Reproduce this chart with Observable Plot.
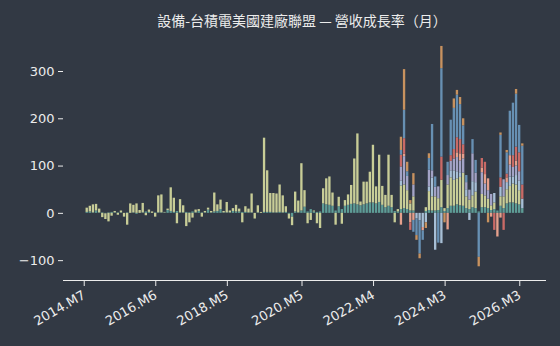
<!DOCTYPE html>
<html>
<head>
<meta charset="utf-8">
<script src="https://cdn.jsdelivr.net/npm/d3@7"></script>
<script src="https://cdn.jsdelivr.net/npm/@observablehq/plot@0.6"></script>
<style>
  html, body { margin: 0; padding: 0; background: #323944; }
  body { width: 560px; height: 346px; overflow: hidden; font-family: "Noto Sans CJK TC", "DejaVu Sans", sans-serif; }
  #title { height: 30px; line-height: 40px; width: 560px; box-sizing: border-box; padding-left: 44px; text-align: center; color: #ececec; font-size: 14px; }
  #chart svg { display: block; }
</style>
</head>
<body>
<div id="title">設備-台積電美國建廠聯盟 — 營收成長率（月）</div>
<div id="chart"></div>
<script>
// x categories: every month shown on the band axis; data starts 2014.M7
const axisStart = [2013, 12];
const axisEnd = [2026, 10];
const dataStart = "2014.M7";
const lateStart = "2022.M11";
const tickLabels = ["2014.M7", "2016.M6", "2018.M5", "2020.M5", "2022.M4", "2024.M3", "2026.M3"];
const yTicks = [-100, 0, 100, 200, 300];

// series (stack order bottom -> top)
const seriesNames = ["漢唐", "帆宣", "亞翔", "聖暉*", "朋億*", "信紘科", "洋基工程", "千附精密"];
const seriesColors = ["#5e9c96", "#c8cd97", "#a7bfd6", "#a3a3c6", "#e6a08c", "#c96a66", "#6790b3", "#c8925f"];

// monthly growth (%) from 2014.M7 to 2026.M3
const teal = [2,3,1,5,1,1,-1,1,2,1, 1,1,0,1,0,1,-2,0,1,3, 2,0,1,1,1,1,6,4,2,4,
  1,1,2,1,3,1,4,1,1,7, 1,3,4,8,1,1,1,4,3,3, 2,2,1,1,0,1,0,2,2,2,
  1,1,2,1,2,-2,-8,3,1,5, 13,3,8,3,2,3,20,18,17,15, 5,14,8,15,17,19,20,18,16,18,
  20,22,22,20,23,17,12,15,12,4,
  3,8,10,8,5,5,0,0,0,4, 6,5,5,6,12,4,10,15,15,18,16,15,10,8,12,10,3,12,12,10, 6, 8,5,15,10,20,22,22,20,18,10];
const yellow = [9,12,17,14,8,-9,-12,-18,-6,3, -4,4,-8,-25,20,16,20,6,20,-5, 5,3,-8,36,38,1,3,50,30,-22,
  28,15,-28,-20,-10,6,4,-8,3,4, 3,40,14,20,3,22,4,6,14,6, -20,12,8,40,-12,15,2,157,88,40,
  41,40,58,36,12,-10,-18,42,25,100, 35,-22,-15,2,-22,-32,32,55,60,28, -25,20,-23,12,22,40,95,150,8,48,
  46,65,122,36,100,40,26,108,26,-20,
  5,50,50,40,15,30,0,0,0,8, 40,30,30,25,58,6,50,60,55,55,60,70,25,20,25,35,0,28,25,20, 10, 14,0,20,25,30,35,40,40,30,0];
// from 2022.M11 to 2026.M3
const lightBlue = [0,10,0,0,0,0,-12,-16,-30,-20, 10,40,-78,0,-64,0,0,15,20,15,10,0,15,-15,30,20,0,0,0,0, 0, 20,0,20,0,15,20,15,20,20,20];
const lavender = [0,30,60,30,0,25,0,0,0,0, 35,15,20,25,0,0,20,20,25,30,25,30,15,21,59,20,0,46,25,18, 24, 0,0,0,36,0,25,20,20,20,0];
const pink = [0,-25,5,0,-20,-15,0,0,-7,0, 0,0,0,0,0,0,-35,0,0,10,15,10,0,0,0,0,0,10,20,25, -8, 0,-50,-10,0,10,20,0,10,0,0];
const red = [0,25,33,0,-16,0,0,0,0,0, 0,0,0,0,49,0,0,12,20,32,30,20,0,0,0,0,0,20,26,0, 0, -36,0,20,-36,8,0,25,30,40,30];
const blue = [0,10,60,10,0,-25,-35,-70,-20,0, 25,98,22,-63,187,0,28,75,87,90,74,40,15,0,30,27,-93,0,0,0, 0, 0,0,90,0,45,94,111,112,58,82];
const orange = [0,28,86,20,7,24,-10,-10,0,-12, 10,0,0,0,47,-20,0,0,20,10,15,15,0,0,0,0,-20,0,0,-20, 0, 0,0,5,0,5,0,0,10,0,5];

// build month categories
const months = [];
for (let y = axisStart[0], m = axisStart[1]; y < axisEnd[0] || (y === axisEnd[0] && m <= axisEnd[1]); ) {
  months.push(`${y}.M${m}`);
  m++; if (m > 12) { m = 1; y++; }
}
const i0 = months.indexOf(dataStart);
const i1 = months.indexOf(lateStart);
const seriesData = [
  [teal, i0], [yellow, i0], [lightBlue, i1], [lavender, i1], [pink, i1], [red, i1], [blue, i1], [orange, i1]
];
const rows = [];
seriesData.forEach(([vals, off], k) => {
  vals.forEach((v, j) => { if (v !== 0) rows.push({month: months[off + j], series: seriesNames[k], value: v}); });
});

const chart = Plot.plot({
  width: 560,
  height: 316,
  marginLeft: 63,
  marginRight: 14,
  marginTop: 15,
  marginBottom: 66,
  style: {background: "transparent", color: "#ececec", fontSize: "13px", fontFamily: "'DejaVu Sans', sans-serif"},
  x: {type: "band", domain: months, padding: 0.25, round: false, label: null},
  y: {domain: [-142, 355], label: null},
  color: {domain: seriesNames, range: seriesColors},
  marks: [
    Plot.barY(rows, {x: "month", y: "value", fill: "series", order: seriesNames}),
    Plot.axisX({ticks: tickLabels, tickRotate: -30, tickSize: 5, dx: -3, dy: 1, label: null}),
    Plot.axisY({ticks: yTicks, tickSize: 5, label: null, tickFormat: d3.format("")}),
    Plot.ruleY([-142], {stroke: "#ececec"})
  ]
});
document.getElementById("chart").appendChild(chart);
</script>
</body>
</html>
